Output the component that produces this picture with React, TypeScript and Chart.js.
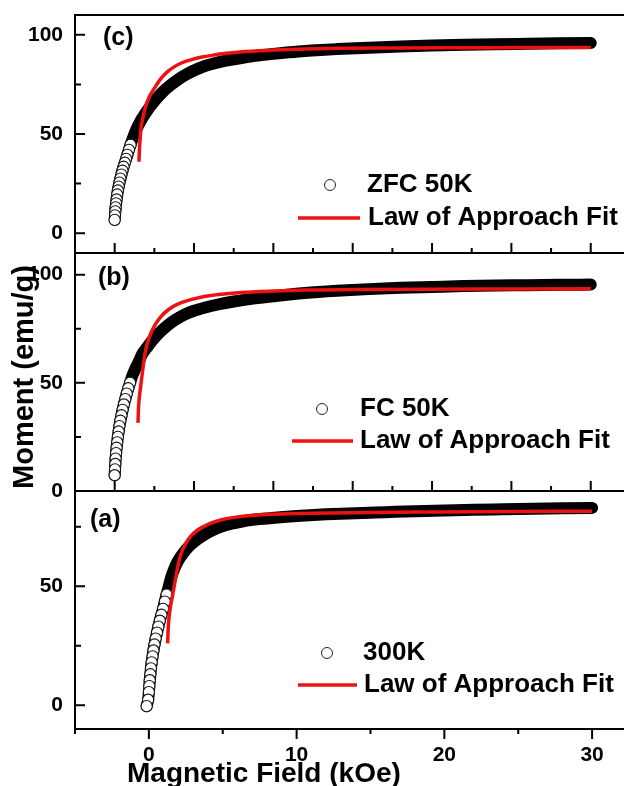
import React, { useEffect, useRef } from "react";
import { Chart, registerables } from "chart.js";

Chart.register(...registerables);

// ---------- Panel (c): ZFC 50K ----------
const zfcField = [0, 0.02, 0.04, 0.06, 0.09, 0.12, 0.16, 0.2, 0.25, 0.3, 0.36, 0.42, 0.49, 0.56, 0.64, 0.72, 0.8, 0.9, 1.0, 1.15, 1.32, 1.5, 1.7, 1.9, 2.2, 2.6, 3.0, 3.5, 4.0, 4.5, 5.0, 5.5, 6.0, 7.0, 8.0, 9.0, 10, 11, 12, 13, 14, 16, 18, 20, 22, 24, 26, 28, 30];
const zfcMoment = [6.7, 9, 11, 13, 15, 17, 19.5, 21.5, 23.5, 25.5, 27.5, 29.5, 31.5, 33.5, 35.5, 37.5, 39.5, 42, 44.5, 48, 51.5, 54.5, 57.5, 60, 63.5, 67.5, 71, 74.5, 77.5, 80, 82, 83.7, 85, 87, 88.3, 89.5, 90.4, 91.2, 91.9, 92.4, 92.8, 93.5, 94.1, 94.6, 95, 95.3, 95.5, 95.7, 95.9];
const zfcFitField = [1.53, 1.56, 1.6, 1.64, 1.75, 1.95, 2.2, 2.5, 2.9, 3.3, 3.7, 4.2, 4.8, 5.5, 6.3, 7.2, 8, 10, 12, 14, 18, 22, 26, 30];
const zfcFitMoment = [36, 42, 47, 51.5, 57, 64, 69, 73, 77.8, 81.2, 83.6, 85.8, 87.4, 88.8, 89.9, 90.8, 91.5, 92.3, 92.9, 93.2, 93.4, 93.5, 93.6, 93.6];

// ---------- Panel (b): FC 50K ----------
const fcField = [0, 0.02, 0.04, 0.06, 0.09, 0.12, 0.16, 0.2, 0.25, 0.3, 0.36, 0.43, 0.5, 0.58, 0.67, 0.76, 0.86, 0.97, 1.1, 1.3, 1.5, 1.75, 2.0, 2.4, 2.8, 3.3, 3.8, 4.4, 5.0, 5.7, 6.5, 7.5, 8.5, 10, 11, 12, 14, 16, 18, 20, 22, 24, 26, 28, 30];
const fcMoment = [7.3, 10, 12.5, 15, 17.5, 20, 22.5, 25, 27.5, 30, 32.5, 35, 37.5, 40, 42.5, 45, 47.5, 50, 53, 56.5, 59.5, 63.5, 66, 69.8, 73, 76.3, 79, 81.5, 83.3, 84.8, 86.2, 87.6, 88.7, 90, 90.8, 91.5, 92.5, 93.3, 93.9, 94.3, 94.7, 95, 95.1, 95.3, 95.4];
const fcFitField = [1.47, 1.5, 1.55, 1.64, 1.75, 1.95, 2.2, 2.48, 2.9, 3.42, 4.0, 4.68, 5.5, 6.57, 8, 10, 12, 15, 20, 25, 30];
const fcFitMoment = [31.5, 38, 43, 48.5, 55, 65, 71.5, 76, 80.5, 84, 86.5, 88.2, 89.7, 90.8, 91.7, 92.4, 92.9, 93.1, 93.3, 93.4, 93.5];

// ---------- Panel (a): 300K ----------
const rtField = [-0.15, -0.05, 0, 0.03, 0.06, 0.1, 0.14, 0.19, 0.25, 0.31, 0.38, 0.46, 0.55, 0.64, 0.74, 0.85, 0.96, 1.08, 1.2, 1.35, 1.5, 1.7, 1.9, 2.17, 2.5, 2.9, 3.3, 3.8, 4.3, 4.9, 5.6, 6.4, 7.5, 8.7, 10, 12, 14, 16, 18, 20, 22, 24, 26, 28, 30];
const rtMoment = [-0.4, 2.3, 5.5, 8, 10.5, 13, 15.5, 18, 20.5, 23, 25.5, 28, 30.5, 33, 35.5, 38, 40.5, 43.5, 46.5, 50, 53.5, 57, 59.8, 62.5, 65.3, 67.8, 69.8, 71.8, 73.5, 75, 76.3, 77.3, 78.2, 78.9, 79.5, 80.2, 80.7, 81.1, 81.5, 81.8, 82.1, 82.3, 82.5, 82.7, 82.9];
const rtFitField = [1.27, 1.3, 1.35, 1.45, 1.6, 1.8, 2.0, 2.17, 2.5, 2.84, 3.3, 4.0, 5.0, 5.55, 6.5, 7.8, 10, 12.3, 15, 20, 25, 30];
const rtFitMoment = [26, 31, 36, 41, 46, 53, 59.5, 63.5, 68, 71, 73.6, 76, 78, 78.7, 79.5, 80.1, 80.5, 80.8, 81, 81.2, 81.4, 81.5];

// ---------- Ticks & labels ----------
const yMajorTop = [0, 50, 100];
const yMajorBottom = [0, 50];
const yMinor = [25, 75];
const xMajorTop = [0, 5, 10, 15, 20, 25, 30];
const xMinorTop = [2.5, 7.5, 12.5, 17.5, 22.5, 27.5];
const xMajorBottom = [0, 10, 20, 30];
const xMinorBottom = [-5, 5, 15, 25];

const legendFit = "Law of Approach Fit";
const xTitle = "Magnetic Field (kOe)";
const yTitle = "Moment (emu/g)";

const FONT = '"Liberation Sans", Arial, Helvetica, sans-serif';
const RED = "#ee1111";
const CANVAS_W = 640;

type LegendItem = { kind: "circle" | "line"; x1: number; x2: number; y: number; tx: number; text: string };
type PanelSpec = {
  top: number;
  height: number;
  padTop: number;
  padBottom: number;
  xAxisH: number;
  xMin: number;
  xMax: number;
  yMin: number;
  yMax: number;
  field: number[];
  moment: number[];
  fitField: number[];
  fitMoment: number[];
  ringLimit: number;
  yMajor: number[];
  xMajor: number[];
  xMinor: number[];
  xTicksOut: boolean;
  xLabels: number[] | null;
  label: string;
  labelX: number;
  labelY: number;
  legend: LegendItem[];
  extraText?: { text: string; x: number; y: number; size: number; rotate?: boolean }[];
};

function makeDecor(spec: PanelSpec) {
  return {
    id: "decor",
    afterDraw(chart: any) {
      const ctx: CanvasRenderingContext2D = chart.ctx;
      const { left, right, top, bottom } = chart.chartArea;
      const xs = chart.scales.x;
      const ys = chart.scales.y;
      const off = spec.top;
      ctx.save();
      ctx.strokeStyle = "#000";
      ctx.lineWidth = 2;
      // frame (right side is outside the visible window)
      ctx.beginPath();
      ctx.moveTo(right + 20, top);
      ctx.lineTo(left, top);
      ctx.lineTo(left, bottom);
      ctx.lineTo(right + 20, bottom);
      ctx.stroke();
      // y ticks (inward)
      ctx.beginPath();
      spec.yMajor.forEach((v) => {
        const p = ys.getPixelForValue(v);
        ctx.moveTo(left, p);
        ctx.lineTo(left + 10, p);
      });
      yMinor.forEach((v) => {
        const p = ys.getPixelForValue(v);
        ctx.moveTo(left, p);
        ctx.lineTo(left + 6, p);
      });
      // x ticks
      const dir = spec.xTicksOut ? 1 : -1;
      spec.xMajor.forEach((v) => {
        const p = xs.getPixelForValue(v);
        ctx.moveTo(p, bottom);
        ctx.lineTo(p, bottom + dir * 10);
      });
      spec.xMinor.forEach((v) => {
        const p = xs.getPixelForValue(v);
        ctx.moveTo(p, bottom);
        ctx.lineTo(p, bottom + dir * 5);
      });
      ctx.stroke();

      // panel label
      ctx.fillStyle = "#000";
      ctx.textBaseline = "middle";
      ctx.textAlign = "left";
      ctx.font = `bold 25px ${FONT}`;
      ctx.fillText(spec.label, spec.labelX, spec.labelY - off);

      // legend
      spec.legend.forEach((it) => {
        if (it.kind === "circle") {
          ctx.beginPath();
          ctx.arc(it.x1, it.y - off, 5.5, 0, Math.PI * 2);
          ctx.fillStyle = "#fff";
          ctx.fill();
          ctx.lineWidth = 1;
          ctx.strokeStyle = "#222";
          ctx.stroke();
        } else {
          ctx.beginPath();
          ctx.moveTo(it.x1, it.y - off);
          ctx.lineTo(it.x2, it.y - off);
          ctx.lineWidth = 3.5;
          ctx.strokeStyle = RED;
          ctx.stroke();
        }
        ctx.fillStyle = "#000";
        ctx.font = `bold 26px ${FONT}`;
        ctx.textBaseline = "middle";
        ctx.fillText(it.text, it.tx, it.y - off);
      });

      (spec.extraText || []).forEach((t) => {
        ctx.save();
        ctx.fillStyle = "#000";
        ctx.font = `bold ${t.size}px ${FONT}`;
        if (t.rotate) {
          ctx.translate(t.x, t.y - off);
          ctx.rotate(-Math.PI / 2);
          ctx.textAlign = "center";
          ctx.textBaseline = "middle";
          ctx.fillText(t.text, 0, 0);
        } else {
          ctx.textAlign = "left";
          ctx.textBaseline = "alphabetic";
          ctx.fillText(t.text, t.x, t.y - off);
        }
        ctx.restore();
      });
      ctx.restore();
    },
  };
}

function buildConfig(spec: PanelSpec): any {
  const pts = spec.field.map((f, i) => ({ x: f, y: spec.moment[i] }));
  const rings = pts.filter((p) => p.x <= spec.ringLimit).reverse();
  const fit = spec.fitField.map((f, i) => ({ x: f, y: spec.fitMoment[i] }));
  const tickFont = { family: FONT, size: 21, weight: "bold" as const };
  return {
    type: "scatter",
    data: {
      datasets: [
        {
          data: fit,
          showLine: true,
          borderColor: RED,
          borderWidth: 3.5,
          pointRadius: 0,
          cubicInterpolationMode: "monotone",
          fill: false,
        },
        {
          data: rings,
          showLine: false,
          pointRadius: 5.6,
          pointBackgroundColor: "#fff",
          pointBorderColor: "#111",
          pointBorderWidth: 1.1,
        },
        {
          data: pts,
          showLine: true,
          borderColor: "#000",
          borderWidth: 12,
          borderCapStyle: "round",
          borderJoinStyle: "round",
          pointRadius: 0,
          cubicInterpolationMode: "monotone",
          fill: false,
        },
      ],
    },
    options: {
      animation: false,
      responsive: false,
      devicePixelRatio: 1,
      events: [],
      layout: { padding: { top: spec.padTop, bottom: spec.padBottom, left: 0, right: 8 }, autoPadding: false },
      plugins: { legend: { display: false }, tooltip: { enabled: false }, title: { display: false } },
      scales: {
        x: {
          type: "linear",
          min: spec.xMin,
          max: spec.xMax,
          grid: { display: false, drawTicks: false },
          border: { display: false },
          ticks: {
            display: !!spec.xLabels,
            color: "#000",
            font: tickFont,
            padding: 14,
            maxRotation: 0,
            autoSkip: false,
          },
          afterBuildTicks: (s: any) => {
            s.ticks = (spec.xLabels || xMajorBottom).map((v) => ({ value: v }));
          },
          afterFit: (s: any) => {
            s.height = spec.xAxisH;
            s.paddingLeft = 0;
            s.paddingRight = 0;
          },
        },
        y: {
          type: "linear",
          min: spec.yMin,
          max: spec.yMax,
          grid: { display: false, drawTicks: false },
          border: { display: false },
          ticks: { color: "#000", font: tickFont, padding: 12 },
          afterBuildTicks: (s: any) => {
            s.ticks = spec.yMajor.map((v) => ({ value: v }));
          },
          afterFit: (s: any) => {
            s.width = 75;
            s.paddingTop = 0;
            s.paddingBottom = 0;
          },
        },
      },
    },
    plugins: [makeDecor(spec)],
  };
}

const panelC: PanelSpec = {
  top: 0,
  height: 280,
  padTop: 15,
  padBottom: 27,
  xAxisH: 0,
  xMin: -2.5,
  xMax: 32.6,
  yMin: -10,
  yMax: 110,
  field: zfcField,
  moment: zfcMoment,
  fitField: zfcFitField,
  fitMoment: zfcFitMoment,
  ringLimit: 1.0,
  yMajor: yMajorTop,
  xMajor: xMajorTop,
  xMinor: xMinorTop,
  xTicksOut: false,
  xLabels: null,
  label: "(c)",
  labelX: 103,
  labelY: 38,
  legend: [
    { kind: "circle", x1: 330, x2: 330, y: 185, tx: 367, text: "ZFC 50K" },
    { kind: "line", x1: 298, x2: 360, y: 218, tx: 368, text: legendFit },
  ],
};

const panelB: PanelSpec = {
  top: 240,
  height: 280,
  padTop: 13,
  padBottom: 29,
  xAxisH: 0,
  xMin: -2.5,
  xMax: 32.6,
  yMin: 0,
  yMax: 110,
  field: fcField,
  moment: fcMoment,
  fitField: fcFitField,
  fitMoment: fcFitMoment,
  ringLimit: 0.97,
  yMajor: yMajorTop,
  xMajor: xMajorTop,
  xMinor: xMinorTop,
  xTicksOut: false,
  xLabels: null,
  label: "(b)",
  labelX: 98,
  labelY: 278,
  legend: [
    { kind: "circle", x1: 322, x2: 322, y: 409, tx: 360, text: "FC 50K" },
    { kind: "line", x1: 292, x2: 353, y: 441, tx: 360, text: legendFit },
  ],
  extraText: [{ text: yTitle, x: 25, y: 377, size: 29, rotate: true }],
};

const panelA: PanelSpec = {
  top: 470,
  height: 316,
  padTop: 21,
  padBottom: 0,
  xAxisH: 57,
  xMin: -5,
  xMax: 32.7,
  yMin: -10,
  yMax: 90,
  field: rtField,
  moment: rtMoment,
  fitField: rtFitField,
  fitMoment: rtFitMoment,
  ringLimit: 1.2,
  yMajor: yMajorBottom,
  xMajor: xMajorBottom,
  xMinor: xMinorBottom,
  xTicksOut: true,
  xLabels: xMajorBottom,
  label: "(a)",
  labelX: 90,
  labelY: 520,
  legend: [
    { kind: "circle", x1: 327, x2: 327, y: 653, tx: 363, text: "300K" },
    { kind: "line", x1: 298, x2: 357, y: 685, tx: 364, text: legendFit },
  ],
  extraText: [{ text: xTitle, x: 127, y: 781.5, size: 28 }],
};

function Panel({ spec }: { spec: PanelSpec }) {
  const ref = useRef<HTMLCanvasElement | null>(null);
  useEffect(() => {
    if (!ref.current) return;
    const chart = new Chart(ref.current, buildConfig(spec));
    return () => chart.destroy();
  }, [spec]);
  return (
    <canvas
      ref={ref}
      width={CANVAS_W}
      height={spec.height}
      style={{ position: "absolute", left: 0, top: spec.top, width: CANVAS_W, height: spec.height }}
    />
  );
}

export default function App() {
  return (
    <div
      style={{
        position: "absolute",
        left: 0,
        top: 0,
        width: 624,
        height: 786,
        overflow: "hidden",
        background: "#fff",
      }}
    >
      <Panel spec={panelC} />
      <Panel spec={panelB} />
      <Panel spec={panelA} />
    </div>
  );
}
